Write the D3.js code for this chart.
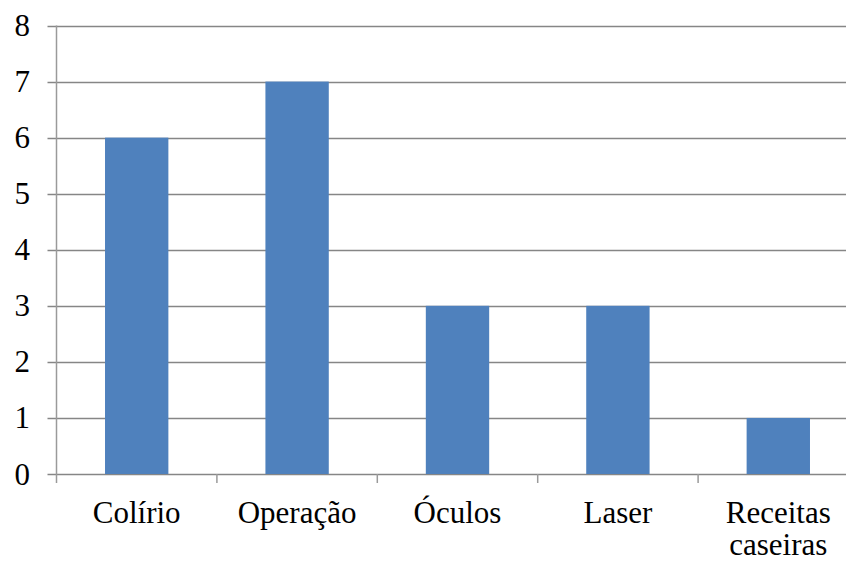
<!DOCTYPE html>
<html>
<head>
<meta charset="utf-8">
<script src="https://cdn.jsdelivr.net/npm/d3@7"></script>
<style>
	body { margin: 0; background: #fff; }
	svg { display: block; }
</style>
</head>
<body>
<svg id="chart" width="846" height="561"></svg>
<script>
// data
const categories = ["Colírio", "Operação", "Óculos", "Laser", "Receitas caseiras"]
const values = [6, 7, 3, 3, 1]
const yTicks = [0, 1, 2, 3, 4, 5, 6, 7, 8]

// layout
const plotLeft = 56.5, plotRight = 858.5, plotTop = 25.5, plotBottom = 474
const barColor = '#4f81bd'
const gridColor = '#868686'
const axisColor = '#9a9a9a'
const fontSize = 31
const font = "'Liberation Serif', Tinos, 'Times New Roman', Times, 'Noto Serif', 'DejaVu Serif', FreeSerif, serif"

const svg = d3.select('#chart')

const x = d3.scaleBand().domain(categories).range([plotLeft, plotRight]).paddingInner(0).paddingOuter(0)
const y = d3.scaleLinear().domain([0, 8]).range([plotBottom, plotTop])

// gridlines (with left tick stubs)
svg.append('g')
	.selectAll('line')
	.data(yTicks)
	.join('line')
	.attr('x1', plotLeft - 9)
	.attr('x2', 846)
	.attr('y1', d => Math.round(y(d)) + 0.5)
	.attr('y2', d => Math.round(y(d)) + 0.5)
	.attr('stroke', gridColor)
	.attr('stroke-width', 1.6)

// bars
const barW = x.bandwidth() * 0.395
svg.append('g')
	.selectAll('rect')
	.data(values)
	.join('rect')
	.attr('x', (d, i) => x(categories[i]) + x.bandwidth() / 2 - barW / 2)
	.attr('width', barW)
	.attr('y', d => y(d))
	.attr('height', d => y(0) - y(d))
	.attr('fill', barColor)

// y axis line
svg.append('line')
	.attr('x1', plotLeft).attr('x2', plotLeft)
	.attr('y1', plotTop).attr('y2', plotBottom + 9)
	.attr('stroke', axisColor)
	.attr('stroke-width', 1.5)

// x axis tick marks at band edges
const edges = categories.map(c => x(c)).concat([plotRight])
svg.append('g')
	.selectAll('line')
	.data(edges.slice(1))
	.join('line')
	.attr('x1', d => d).attr('x2', d => d)
	.attr('y1', plotBottom).attr('y2', plotBottom + 9)
	.attr('stroke', axisColor)
	.attr('stroke-width', 1.5)

// y tick labels
svg.append('g')
	.selectAll('text')
	.data(yTicks)
	.join('text')
	.attr('x', 30)
	.attr('y', d => y(d))
	.attr('dy', '0.34em')
	.attr('text-anchor', 'end')
	.style('font-family', font)
	.attr('font-size', fontSize)
	.text(d => d)

// x labels (Excel-style wrap for long names)
const lines = c => c.length > 12 ? c.split(' ') : [c]
const xl = svg.append('g')
	.selectAll('text')
	.data(categories)
	.join('text')
	.attr('x', c => x(c) + x.bandwidth() / 2)
	.attr('y', 523)
	.attr('text-anchor', 'middle')
	.style('font-family', font)
	.attr('font-size', fontSize)
xl.selectAll('tspan')
	.data(c => lines(c).map(t => ({ t, x: x(c) + x.bandwidth() / 2 })))
	.join('tspan')
	.attr('x', d => d.x)
	.attr('dy', (d, i) => i ? 32 : 0)
	.text(d => d.t)
</script>
</body>
</html>
